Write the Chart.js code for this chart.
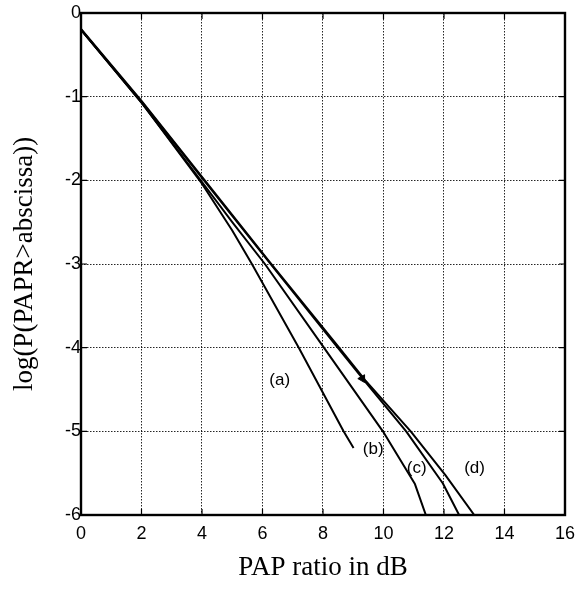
<!DOCTYPE html>
<html>
<head>
<meta charset="utf-8">
<script src="https://cdn.jsdelivr.net/npm/chart.js@4/dist/chart.umd.min.js"></script>
<style>
    html, body { margin: 0; padding: 0; background: #fff; }
</style>
</head>
<body>
<canvas id="GraficoPapr" width="583" height="591"></canvas>
<script>

// curvas de probabilidade do PAPR (log10), eixo x em dB
const xA = [0, 2, 4, 5, 5.65, 7.2, 8.68, 9.01];
const yA = [-0.2, -1.07, -2.04, -2.6, -3, -4, -5, -5.2];

const xB = [0, 2, 4, 5, 6.08, 8.03, 9.98, 11.04, 11.4];
const yB = [-0.2, -1.07, -2.02, -2.5, -3, -4, -5, -5.63, -6];

const xC = [0, 2, 4, 6.2, 8.4, 9.4, 10.75, 11.96, 12.5];
const yC = [-0.2, -1.06, -1.97, -2.97, -3.96, -4.41, -5, -5.62, -6];

const xD = [0, 2, 4, 6.2, 8.42, 9.4, 10.9, 12.04, 13.0];
const yD = [-0.19, -1.05, -1.96, -2.96, -3.95, -4.39, -5, -5.52, -6];

// seta sobre a curva (c)/(d)
const setaX = [9.3];
const setaY = [-4.37];

const rotulos = ["(a)", "(b)", "(c)", "(d)"];
const rotuloX = [6.57, 9.66, 11.1, 13.01];
const rotuloY = [-4.39, -5.21, -5.44, -5.44];

const ticksX = [0, 2, 4, 6, 8, 10, 12, 14, 16];
const ticksY = [-6, -5, -4, -3, -2, -1, 0];

function pontos(xs, ys) {
    return xs.map(function (v, i) { return { x: v, y: ys[i] }; });
}

function curva(xs, ys) {
    return {
        data: pontos(xs, ys),
        borderColor: "#000",
        borderWidth: 2,
        borderJoinStyle: "round",
        pointRadius: 0,
        tension: 0,
        fill: false
    };
}

// moldura, marcas internas e rótulos das curvas
const moldura = {
    id: "moldura",
    afterDatasetsDraw: function (chart) {
        const ctx = chart.ctx;
        const a = chart.chartArea;
        const x = chart.scales.x;
        const y = chart.scales.y;
        ctx.save();
        ctx.strokeStyle = "#000";
        ctx.lineWidth = 1.2;
        ctx.beginPath();
        ticksX.forEach(function (v) {
            const px = x.getPixelForValue(v);
            ctx.moveTo(px, a.bottom); ctx.lineTo(px, a.bottom - 6);
            ctx.moveTo(px, a.top); ctx.lineTo(px, a.top + 6);
        });
        ticksY.forEach(function (v) {
            const py = y.getPixelForValue(v);
            ctx.moveTo(a.left, py); ctx.lineTo(a.left + 6, py);
            ctx.moveTo(a.right, py); ctx.lineTo(a.right - 6, py);
        });
        ctx.stroke();
        ctx.lineWidth = 2.4;
        ctx.strokeRect(a.left, a.top, a.right - a.left, a.bottom - a.top);

        ctx.fillStyle = "#000";
        ctx.font = '17px "Liberation Sans", Arial, sans-serif';
        ctx.textAlign = "center";
        ctx.textBaseline = "middle";
        rotulos.forEach(function (t, i) {
            ctx.fillText(t, x.getPixelForValue(rotuloX[i]), y.getPixelForValue(rotuloY[i]));
        });
        ctx.restore();
    }
};

const grade = {
    color: "rgba(0,0,0,0.85)",
    lineWidth: 1,
    drawTicks: false
};

new Chart(document.getElementById("GraficoPapr"), {

    type: "line",

    data: {
        datasets: [
            curva(xA, yA),
            curva(xB, yB),
            curva(xC, yC),
            curva(xD, yD),
            {
                data: pontos(setaX, setaY),
                showLine: false,
                pointStyle: "triangle",
                pointRadius: 4.5,
                rotation: 270,
                backgroundColor: "#000",
                borderColor: "#000",
                borderWidth: 1
            }
        ]
    },

    plugins: [moldura],

    options: {
        responsive: false,
        animation: false,
        layout: { padding: { left: 0, top: 13, right: 15, bottom: 0 } },
        plugins: {
            legend: { display: false },
            tooltip: { enabled: false }
        },
        scales: {
            x: {
                type: "linear",
                min: 0,
                max: 16,
                afterFit: function (s) { s.height = 76; },
                border: { display: false, dash: [1.5, 1.5] },
                grid: grade,
                ticks: {
                    stepSize: 2,
                    padding: 8,
                    color: "#000",
                    font: { family: '"Liberation Sans", Arial, sans-serif', size: 18 }
                },
                title: {
                    display: true,
                    text: "PAP ratio in dB",
                    color: "#000",
                    padding: { top: 0, bottom: 7 },
                    font: { family: '"Liberation Serif", "Times New Roman", serif', size: 27 }
                }
            },
            y: {
                type: "linear",
                min: -6,
                max: 0,
                afterFit: function (s) { s.width = 81; },
                border: { display: false, dash: [1.5, 1.5] },
                grid: grade,
                ticks: {
                    stepSize: 1,
                    padding: 0,
                    color: "#000",
                    font: { family: '"Liberation Sans", Arial, sans-serif', size: 18 }
                },
                title: {
                    display: true,
                    text: "log(P(PAPR>abscissa))",
                    color: "#000",
                    padding: { top: 9, bottom: 0 },
                    font: { family: '"Liberation Serif", "Times New Roman", serif', size: 27 }
                }
            }
        }
    }
});
</script>
</body>
</html>
